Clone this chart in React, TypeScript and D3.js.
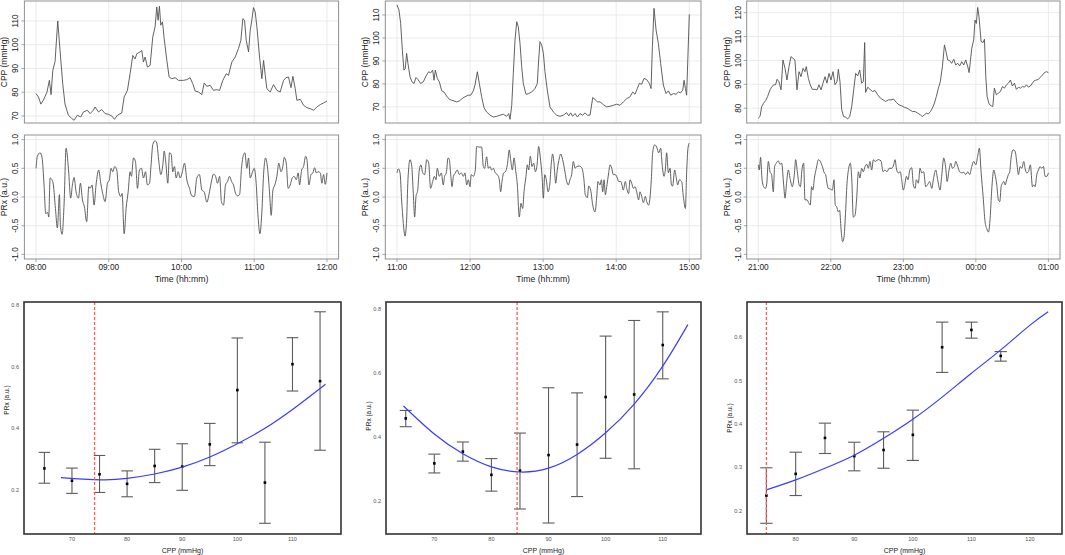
import React from 'react';
import * as d3 from 'd3';

type Pt = [number, number];

// ---- time series (minutes from start of window, value) ----
const cppMorning: Pt[] = [[0,79.4],[2,78],[4,75],[6,76.6],[9,80],[11,85],[12.4,79],[13.8,89],[15.7,93],[17.9,110],[19.8,97.6],[22,83.6],[23.9,75],[26.7,70.3],[29.4,69],[31.4,68.2],[34.1,70.3],[36.9,69.6],[39.1,71.7],[42.4,72.4],[44.6,71],[47.3,72.4],[48.7,73.8],[51.5,71.7],[54.2,72.7],[57,71],[59.7,70.7],[62.5,70],[64.7,68.6],[67.1,70.3],[70.7,71.3],[72.7,78],[75.4,80.8],[77.6,87.8],[79.8,95.5],[81.7,94],[83.1,96.2],[85.9,97],[87.2,97.6],[88.6,92.7],[90,94.8],[91.9,90.6],[94.1,91.3],[96.3,103.3],[98.2,107.5],[99.6,115.9],[100.7,110.3],[101.8,116.2],[102.9,108.2],[104.3,109.6],[105.7,102.6],[107.9,93.4],[109.8,86.4],[112,85.7],[114.8,86.1],[117.5,85],[121.6,85],[124.4,85.3],[127.1,86.1],[129.3,83.6],[131.3,80.5],[134,80.1],[136.8,79],[138.7,83.9],[140.9,82.5],[143.7,82.9],[146.4,80.8],[148.6,81.1],[151.4,80.8],[154.1,85],[156.9,87.8],[158.8,87.1],[161.5,92.7],[164.3,94.8],[167,98.4],[169,101.9],[170.6,111],[172,110.3],[173.4,101.9],[175.3,97],[176.7,106],[178,110.3],[179.4,115.6],[180.8,113.8],[182.2,107.5],[184.4,94.8],[186.3,85.7],[187.7,93.4],[189.1,87.1],[190.4,81.5],[193.2,80.1],[195.9,83.2],[198.7,80.8],[201.4,80.1],[204.2,85],[206.1,86.1],[208.3,86.4],[210.3,81.9],[211.9,86.7],[213.8,81.5],[215.2,76.6],[218,77],[220.7,74.5],[223.5,73.5],[226.2,73.1],[229,72.4],[231.7,73.8],[234.5,74.8],[237.2,75.5],[240,76.3]];

const prxMorning: Pt[] = [[0,0.5],[1.1,0.71],[3.3,0.77],[5,0.68],[6.6,0.21],[8,-0.29],[9.6,-0.27],[10.5,-0.35],[11.6,0.33],[13.2,0.3],[14.3,0.21],[16,-0.2],[17.6,-0.54],[19.3,0.04],[20.1,-0.49],[21.5,-0.65],[23.1,-0.14],[24.8,0.85],[26.7,0.5],[28.6,-0.02],[30,0.21],[31.4,0.34],[33,0.09],[35,-0.02],[36.6,0.24],[38.3,-0.05],[39.9,-0.17],[41.8,-0.43],[43.5,0.18],[44.6,0.15],[46.2,0.21],[47.9,-0.14],[49.5,0.21],[51.7,0.47],[53.4,0.24],[55,0.06],[57,-0.08],[58.9,0.24],[60.5,0.3],[61.9,0.5],[63.3,0.44],[64.9,0.53],[66.6,0.47],[68.2,0.09],[69.9,0.01],[71,0.06],[72.7,-0.64],[74.3,-0.2],[76,0.09],[77.6,0.44],[78.7,0.36],[80.4,0.68],[82,0.62],[83.7,0.15],[85.3,0.47],[87,0.5],[88.6,0.33],[90.3,0.44],[91.9,0.21],[93.6,0.24],[94.9,0.56],[96.3,0.91],[98.2,0.98],[99.6,0.94],[101.3,0.62],[102.9,0.39],[104.6,0.56],[105.7,0.8],[107.1,0.59],[108.7,0.24],[110.1,0.77],[111.5,0.74],[112.8,0.44],[114.2,0.53],[115.6,0.33],[117.2,0.44],[118.9,0.33],[120.5,0.42],[122.5,0.59],[124.4,0.3],[126.6,0.15],[128.5,0.02],[130.7,0.01],[132.6,0.33],[134.8,0.39],[136.8,0.12],[138.7,0.09],[140.9,-0.09],[143.1,0.09],[145,0.3],[146.4,0.4],[148.1,0.36],[149.7,0.24],[151.4,0.36],[153,-0.09],[154.7,-0.14],[156.3,0.21],[158,0.27],[159.6,0.36],[161.3,0.27],[162.9,0.21],[164.6,0.06],[166.2,0.02],[167.9,0.04],[169.5,0.5],[171.2,0.74],[172.3,0.77],[173.9,0.5],[175.3,0.68],[176.7,0.33],[178.3,0.42],[180,0.5],[181.6,0.24],[183,-0.29],[184.7,-0.64],[186.3,-0.26],[187.7,0.39],[189.3,0.68],[191,0.5],[192.6,0.09],[194,-0.32],[195.4,0.12],[197,0.21],[198.7,0.36],[200.3,0.59],[202,0.44],[203.6,0.53],[204.7,0.69],[206.4,0.59],[208,0.15],[209.7,0.21],[211.3,0.33],[213,0.36],[214.7,0.3],[216.3,0.42],[217.4,0.21],[219.1,0.47],[220.7,0.53],[222.4,0.71],[223.5,0.65],[225.1,0.21],[226.8,0.39],[228.4,0.42],[229.8,0.51],[231.2,0.42],[232.8,0.44],[234.5,0.42],[235.8,0.24],[237.2,0.39],[238.6,0.22],[240,0.42]];

const cppMidday: Pt[] = [[0,114.4],[1.6,112.2],[3,106.4],[4.4,94.7],[5.7,86],[6.8,86.7],[7.9,93.3],[9,88.9],[10.7,83.1],[12.3,80.9],[14,80.2],[15.6,82.8],[17.2,81.9],[19.4,80.2],[21.6,80.9],[23.8,83.4],[26,85.3],[27.6,84.8],[29.3,86],[30.4,81.6],[31.5,86],[33.1,82.4],[34.8,80.9],[36.7,77],[38.6,76.5],[40.8,74.7],[43,73.3],[44.9,72.9],[46.8,72.6],[49,72.2],[51.2,72.6],[53.4,73.6],[55.8,74.4],[58.6,75.1],[60.5,75.1],[62.7,77],[64,79.5],[66,85.3],[67.6,80.2],[69.5,74.4],[71.5,69.6],[73.6,67.8],[76.4,66.4],[79.1,65.6],[81.8,65.9],[84.6,66.4],[87.3,66.8],[90,65.9],[91.7,67.1],[92.8,64.6],[94.2,70.7],[95.5,84.5],[96.9,99.1],[98.3,107.1],[99.6,104.9],[101,97.6],[102.4,87.5],[103.7,80.2],[105.9,75.5],[108.1,75.8],[110.6,76.5],[113.3,78],[115.2,80.2],[116.3,90.4],[117.4,98.4],[118.8,96.9],[120.2,93.3],[121.5,85.3],[123.4,77.3],[125.6,70],[128.4,67.8],[131.1,66.4],[133.8,65.9],[136.6,66.4],[139.3,67.5],[141,66.1],[142.6,67.4],[144.2,65.9],[146.2,67.1],[148.1,65.6],[150.3,67.1],[152.4,66.4],[154.4,67.4],[156.3,66.4],[158.5,66.4],[160.7,74.1],[162.6,73.2],[164.5,72.2],[166.7,72.2],[169.4,71],[172.2,70],[174.9,70.3],[177.6,70.7],[180.4,71.2],[183.1,70.7],[185.9,72.2],[188.6,73.6],[191.3,74.4],[193.5,76.5],[195.4,75.5],[197.3,78],[199,80.2],[200.9,79.9],[202.8,82.4],[205,81.9],[207.2,80.2],[208.6,78],[209.7,96.2],[211,112.9],[212.7,103.5],[214.6,97.6],[216.5,88.9],[218.7,79.5],[220.9,75.8],[222.8,77],[224.7,75.1],[226.9,75.8],[229.1,75.5],[231,76.5],[232.9,76.1],[234.6,77.3],[235.7,81.6],[236.8,78],[237.8,75.1],[240,110.3]];

const prxMidday: Pt[] = [[0,0.42],[1.1,0.49],[2.5,0.42],[3.8,-0.05],[5.2,-0.46],[6.6,-0.68],[7.9,-0.4],[9,0.3],[10.7,0.65],[12,0.56],[13.4,0.06],[14.5,-0.35],[15.6,0.01],[17,0.12],[18.3,0.47],[19.7,0.56],[21.1,0.42],[22.7,0.39],[24.4,0.65],[26,0.59],[27.6,0.15],[29.3,0.27],[30.7,0.36],[32,0.3],[33.1,0.5],[34.8,0.36],[36.4,0.42],[38,0.21],[39.1,0.36],[40.5,0.42],[41.9,0.68],[43,0.65],[44.1,0.39],[45.2,0.18],[46.3,0.36],[47.9,0.42],[49.5,0.47],[51.2,0.39],[52.8,0.42],[54.5,0.36],[55.8,0.42],[57.2,0.21],[58.6,0.3],[59.9,0.18],[61,0.39],[62.7,0.36],[64.3,0.47],[65.4,0.88],[67.1,0.87],[69.5,0.87],[70.9,0.53],[72,0.5],[73.6,0.7],[75,0.5],[76.4,0.53],[77.7,0.47],[79.1,0.5],[80.7,0.42],[82.4,0.39],[84,0.3],[85.1,0.09],[86.2,0.27],[87.6,0.42],[89,0.44],[90.6,0.56],[92.2,0.82],[93.3,0.65],[94.7,0.47],[96.1,0.68],[97.4,0.47],[98.8,0.21],[100.4,-0.35],[101.8,-0.11],[103.2,-0.2],[104.3,0.09],[105.9,0.36],[107,0.56],[108.1,0.47],[109.5,0.71],[110.8,0.53],[112.2,0.59],[113.6,0.44],[115,0.56],[116.3,0.88],[117.7,0.68],[119.1,0.36],[120.2,-0.02],[121.3,0.39],[122.6,0.3],[124,0.09],[125.4,0.21],[126.7,0.59],[127.8,0.75],[128.9,0.59],[130.3,0.24],[131.6,0.47],[133.3,0.68],[134.4,0.75],[136,0.65],[137.9,0.44],[139.3,0.27],[140.7,0.21],[142,0.3],[143.4,0.39],[144.8,0.62],[146.2,0.5],[147.5,0.53],[149.7,0.54],[151.9,0.5],[153.5,0.3],[154.6,0.04],[156.3,-0.01],[157.4,0.19],[159,0.12],[160.7,-0.14],[162.6,-0.26],[163.9,-0.02],[165,0.27],[166.7,0.21],[167.8,0.3],[168.9,0.09],[170,0.3],[171.1,0.04],[172.2,0.18],[173.8,0.42],[174.9,0.56],[176.3,0.5],[177.6,0.39],[179.3,0.39],[180.9,0.33],[182,0.27],[183.7,0.27],[184.7,0.21],[185.8,0.12],[187.5,0.27],[188.6,0.15],[190.2,0.06],[191.3,0.3],[192.7,0.24],[194.1,0.15],[195.4,0.18],[196.8,0.09],[198.4,-0.05],[199.5,0.09],[200.9,0.01],[202.3,-0.1],[203.9,0.01],[205,-0.08],[206.6,-0.14],[207.7,-0.02],[208.8,0.3],[209.9,0.77],[211.6,0.91],[213.2,0.87],[214.9,0.77],[216.5,0.85],[217.6,0.59],[219.2,0.36],[220.3,0.47],[221.4,0.77],[222.8,0.42],[224.2,0.5],[225.3,0.21],[226.3,0.19],[228,0.47],[229.1,0.36],[230.5,0.21],[231.8,0.3],[233.7,0.27],[235.1,0.01],[236.8,-0.2],[237.8,0.42],[238.9,0.85],[240,0.94]];

const cppNight: Pt[] = [[0,75.8],[1.4,76.5],[2.8,80.7],[4.4,82.1],[6.1,83.2],[7.7,84.9],[9.7,87.7],[11,88.8],[12.7,89.8],[14.3,89.8],[15.5,92.1],[17.1,91.1],[18.8,87.7],[20.4,100.2],[22.1,96.7],[23.7,91.8],[25.4,97.4],[27,101.6],[28.7,100.9],[30.3,100.2],[32,87.7],[33.7,95.3],[35.3,93.2],[37,96.7],[38.6,95.3],[39.7,97.4],[41.4,92.5],[43,89.8],[44.7,87.9],[46.9,87.9],[48.6,87.7],[50.2,89.8],[51.9,87.7],[53.5,90.5],[55.2,93.2],[56.8,90.5],[58.5,94.6],[60.1,91.8],[61.8,95.3],[63.5,89.8],[65.1,91.1],[66.2,96.3],[67.6,91.1],[69,79.3],[70.6,76.5],[72.3,76.2],[73.9,75.5],[75.6,76.5],[77.3,80.7],[78.9,87.7],[80.6,94.6],[82.2,93.5],[83.9,96],[85.5,90.5],[86.9,91.1],[88,107.5],[88.8,86.6],[90.5,88.8],[92.4,87.9],[94.4,87],[96.6,87.4],[98.8,85.6],[101,84.2],[103.2,83.5],[105.4,82.8],[107.6,83.5],[109.8,83.5],[112,83.8],[114.2,82.4],[116.4,81.4],[118.6,81],[120.8,80.4],[123.1,80],[125.3,79.3],[127.5,78.6],[129.7,78.6],[131.9,77.9],[134.1,77.2],[135.7,76.5],[137.4,77.2],[139.1,77.9],[140.7,77.6],[142.4,78.6],[144,80],[145.7,82.1],[147.3,84.9],[149,88.4],[150.6,91.1],[152.3,97.4],[154,106.5],[155.3,103.7],[156.7,100.2],[158.4,99.9],[160,98.8],[161.7,100.5],[163.3,98.1],[165,98.8],[166.6,97.7],[168.3,99.5],[170,98.1],[171.6,100.2],[173.3,97.4],[174.4,94.9],[175.5,99.9],[176.6,105.1],[178.2,108.6],[179.3,116.9],[180.4,115.5],[181.5,122.2],[182.6,118.3],[184.3,107.9],[186,107.5],[187.1,108.9],[188.2,93.2],[189.3,84.9],[190.9,81.8],[192.6,81],[194,80.7],[195.3,88.4],[197,85.6],[198.6,86.3],[200.3,87],[202,89.1],[203.6,88.4],[205.3,89.8],[206.9,90.5],[208.6,91.8],[210.2,89.3],[211.9,90.5],[213.5,87.9],[215.2,88.8],[216.9,88.4],[218.5,89.1],[220.2,88.8],[221.8,89.8],[223.5,88.8],[225.1,89.3],[226.8,90.5],[228.4,91.6],[230.1,91.8],[231.8,92.1],[233.4,93],[235.1,93.9],[236.7,94.9],[238.4,95.3],[240,94.9]];

const prxNight: Pt[] = [[0,0.56],[0.8,0.47],[1.9,0.69],[3,0.33],[4.4,0.18],[5.8,0.15],[6.9,0.21],[8.3,0.62],[9.7,0.44],[11,0.39],[12.4,0.09],[13.5,0.53],[14.9,0.59],[16.6,0.63],[17.9,0.57],[19.3,0.59],[21,0.21],[22.1,-0.02],[23.5,0.27],[24.8,0.47],[26.5,0.3],[28.1,0.18],[29.8,0.39],[30.9,0.65],[32.3,0.44],[33.7,0.22],[34.8,0.18],[36.1,0.47],[37.5,0.59],[38.6,-0.05],[40.3,-0.05],[41.9,-0.11],[43,-0.14],[44.1,0.18],[45.2,0.12],[46.4,0.33],[48,0.5],[49.7,0.65],[51.3,0.62],[53,0.53],[54.6,0.42],[55.7,0.39],[56.8,0.24],[57.9,0.15],[59.6,0.14],[61.3,0.12],[62.6,0.3],[63.7,-0.14],[64.8,-0.17],[66.2,-0.26],[67.3,-0.23],[68.4,-0.55],[69.8,-0.78],[70.9,-0.7],[72,-0.35],[73.4,0.24],[74.8,0.5],[76.1,0.59],[77.3,0.33],[78.6,-0.35],[80,-0.32],[81.4,-0.02],[82.8,0.44],[84.1,0.33],[85.5,0.5],[86.9,0.44],[88.3,0.53],[89.7,0.57],[91,0.5],[92.4,0.62],[93.8,0.47],[95.2,0.65],[96.6,0.62],[99.3,0.65],[101.5,0.63],[103.2,0.44],[104.8,0.47],[106.5,0.44],[108.2,0.5],[110.4,0.5],[112,0.56],[113.1,0.65],[114.5,0.47],[115.9,0.42],[117.5,0.44],[118.6,0.3],[120,0.12],[121.4,0.24],[122.5,0.36],[123.9,0.3],[125.3,0.47],[126.9,0.51],[128.3,0.21],[129.7,0.15],[130.8,0.3],[132.4,0.24],[133.8,0.5],[135.2,0.42],[136.8,0.44],[138.5,0.18],[140.2,0.22],[141.8,0.27],[143.5,0.15],[145.1,0.34],[146.8,0.47],[148.4,0.3],[150.4,0.12],[151.7,0.36],[153.4,0.68],[155.1,0.5],[156.2,0.27],[157.8,0.47],[159.2,0.59],[160.6,0.5],[162.2,0.53],[163.3,0.62],[165,0.53],[166.6,0.44],[168.3,0.42],[170,0.43],[171.6,0.39],[173.3,0.44],[174.9,0.39],[176.6,0.53],[178.2,0.62],[179.9,0.56],[181.5,0.71],[182.9,0.85],[184.3,0.44],[186,0.01],[187.6,-0.43],[189,-0.55],[190.4,-0.61],[191.8,-0.37],[193.1,0.12],[194.8,0.47],[195.9,0.39],[197.3,0.21],[198.6,-0.05],[199.8,-0.08],[200.9,0.18],[202,0.24],[203.1,0.27],[204.2,0.21],[205.5,0.3],[206.9,0.39],[208,0.44],[209.1,0.68],[210.8,0.82],[212.4,0.8],[214.1,0.56],[215.2,0.39],[216.6,0.53],[218,0.5],[219.6,0.62],[220.7,0.5],[222.1,0.42],[223.5,0.44],[225.1,0.56],[226.8,0.18],[227.9,0.21],[229,0.18],[230.4,0.39],[231.8,0.47],[233.1,0.53],[234.5,0.5],[235.9,0.53],[237.3,0.36],[238.7,0.36],[240,0.42]];

// ---- time axis ticks ----
const hourTicks = [0, 60, 120, 180, 240];
const labelsMorning = ['08:00', '09:00', '10:00', '11:00', '12:00'];
const labelsMidday = ['11:00', '12:00', '13:00', '14:00', '15:00'];
const labelsNight = ['21:00', '22:00', '23:00', '00:00', '01:00'];
const prxTicks = [-1, -0.5, 0, 0.5, 1];

// ---- binned PRx vs CPP ----
const binCppMorning = [65, 70, 75, 80, 85, 90, 95, 100, 105, 110, 115];
const meanMorning = [0.27, 0.23, 0.251, 0.22, 0.278, 0.276, 0.348, 0.524, 0.224, 0.608, 0.553];
const lowMorning = [0.222, 0.189, 0.192, 0.178, 0.224, 0.199, 0.279, 0.353, 0.092, 0.521, 0.329];
const highMorning = [0.322, 0.271, 0.312, 0.262, 0.332, 0.35, 0.416, 0.693, 0.355, 0.694, 0.778];
const fitCppMorning = [68, 72, 76, 80, 85, 90, 95, 100, 105, 110, 116];
const fitPrxMorning = [0.24, 0.235, 0.233, 0.238, 0.252, 0.274, 0.307, 0.35, 0.4, 0.461, 0.543];
const optMorning = 74.1;

const binCppMidday = [65, 70, 75, 80, 85, 90, 95, 100, 105, 110];
const meanMidday = [0.458, 0.317, 0.354, 0.281, 0.294, 0.343, 0.376, 0.525, 0.533, 0.688];
const lowMidday = [0.432, 0.287, 0.324, 0.23, 0.174, 0.13, 0.213, 0.333, 0.3, 0.582];
const highMidday = [0.483, 0.346, 0.384, 0.332, 0.412, 0.554, 0.538, 0.716, 0.765, 0.792];
const fitCppMidday = [64.6, 70, 75, 80, 85, 90, 95, 100, 105, 110, 114.4];
const fitPrxMidday = [0.497, 0.409, 0.347, 0.306, 0.29, 0.302, 0.345, 0.413, 0.503, 0.622, 0.752];
const optMidday = 84.5;

const binCppNight = [75, 80, 85, 90, 95, 100, 105, 110, 115];
const meanNight = [0.235, 0.285, 0.368, 0.326, 0.34, 0.375, 0.577, 0.617, 0.557];
const lowNight = [0.171, 0.235, 0.332, 0.292, 0.298, 0.316, 0.519, 0.598, 0.545];
const highNight = [0.299, 0.335, 0.402, 0.358, 0.382, 0.432, 0.635, 0.635, 0.567];
const fitCppNight = [75, 80, 85, 90, 95, 100, 105, 110, 115, 120, 123.1];
const fitPrxNight = [0.248, 0.271, 0.298, 0.328, 0.367, 0.411, 0.462, 0.517, 0.571, 0.628, 0.659];
const optNight = 75;

const FONT = '"Liberation Sans", Arial, Helvetica, sans-serif';

interface TraceProps {
  data: Pt[];
  x0: number; x1: number; y0: number; y1: number;
  yDomain: [number, number];
  yTicks: number[];
  yFormat: (v: number) => string;
  yTitle: string;
  timeLabels?: string[];
  smooth?: boolean;
}

function TracePanel({ data, x0, x1, y0, y1, yDomain, yTicks, yFormat, yTitle, timeLabels, smooth }: TraceProps) {
  const x = d3.scaleLinear().domain([-9.6, 249.6]).range([x0, x1]);
  const y = d3.scaleLinear().domain(yDomain).range([y1, y0]);
  const line = d3.line<Pt>()
    .x(d => x(d[0]))
    .y(d => y(d[1]))
    .curve(smooth ? d3.curveMonotoneX : d3.curveLinear);
  const midY = (y0 + y1) / 2;

  return (
    <g fontFamily={FONT}>
      {hourTicks.map(t => (
        <line key={'gx' + t} x1={x(t)} x2={x(t)} y1={y0} y2={y1} stroke="#e6e6e6" strokeWidth={0.8} />
      ))}
      {yTicks.map(v => (
        <line key={'gy' + v} x1={x0} x2={x1} y1={y(v)} y2={y(v)} stroke="#e6e6e6" strokeWidth={0.8} />
      ))}
      <path d={line(data) || ''} fill="none" stroke="#505050" strokeWidth={0.9} />
      <rect x={x0} y={y0} width={x1 - x0} height={y1 - y0} fill="none" stroke="#8f8f8f" strokeWidth={1} />
      {yTicks.map(v => (
        <g key={'ty' + v}>
          <line x1={x0 - 3} x2={x0} y1={y(v)} y2={y(v)} stroke="#8f8f8f" strokeWidth={0.8} />
          <text transform={`translate(${x0 - 9},${y(v)}) rotate(-90)`} textAnchor="middle"
            dominantBaseline="central" fontSize={8.3} fill="#222">{yFormat(v)}</text>
        </g>
      ))}
      <text transform={`translate(${x0 - 20},${midY}) rotate(-90)`} textAnchor="middle"
        dominantBaseline="central" fontSize={8.5} fill="#222">{yTitle}</text>
      {timeLabels && hourTicks.map((t, i) => (
        <g key={'tx' + t}>
          <line x1={x(t)} x2={x(t)} y1={y1} y2={y1 + 3} stroke="#8f8f8f" strokeWidth={0.8} />
          <text x={x(t)} y={y1 + 8} textAnchor="middle" dominantBaseline="central" fontSize={8.3} fill="#222">
            {timeLabels[i]}
          </text>
        </g>
      ))}
      {timeLabels && (
        <text x={(x0 + x1) / 2} y={y1 + 20} textAnchor="middle" dominantBaseline="central" fontSize={8.7} fill="#222">
          Time (hh:mm)
        </text>
      )}
    </g>
  );
}

interface BinProps {
  cpp: number[]; mean: number[]; low: number[]; high: number[];
  fitCpp: number[]; fitPrx: number[]; opt: number;
  x0: number; x1: number; y0: number; y1: number;
  xDomain: [number, number]; yDomain: [number, number];
  xTicks: number[]; yTicks: number[];
  yTitleY: number;
}

function BinPanel(p: BinProps) {
  const x = d3.scaleLinear().domain(p.xDomain).range([p.x0, p.x1]);
  const y = d3.scaleLinear().domain(p.yDomain).range([p.y1, p.y0]);
  const fit = d3.line<number>()
    .x((_, i) => x(p.fitCpp[i]))
    .y(d => y(d))
    .curve(d3.curveNatural);
  const capHalf = 1.05;

  return (
    <g fontFamily={FONT}>
      {p.cpp.map((c, i) => (
        <g key={'eb' + c} stroke="#5c5c5c" strokeWidth={1.1}>
          <line x1={x(c)} x2={x(c)} y1={y(p.low[i])} y2={y(p.high[i])} />
          <line x1={x(c - capHalf)} x2={x(c + capHalf)} y1={y(p.low[i])} y2={y(p.low[i])} />
          <line x1={x(c - capHalf)} x2={x(c + capHalf)} y1={y(p.high[i])} y2={y(p.high[i])} />
        </g>
      ))}
      {p.cpp.map((c, i) => (
        <rect key={'pt' + c} x={x(c) - 1.3} y={y(p.mean[i]) - 1.3} width={2.6} height={2.6} fill="#000" />
      ))}
      <path d={fit(p.fitPrx) || ''} fill="none" stroke="#3b3bff" strokeWidth={1.2} />
      <line x1={x(p.opt)} x2={x(p.opt)} y1={p.y0} y2={p.y1} stroke="#ff5a5a" strokeWidth={1.3} strokeDasharray="3,2" />
      <rect x={p.x0} y={p.y0} width={p.x1 - p.x0} height={p.y1 - p.y0} fill="none" stroke="#333" strokeWidth={1.6} />
      {p.yTicks.map(v => (
        <text key={'ty' + v} x={p.x0 - 5} y={y(v)} textAnchor="end" dominantBaseline="central" fontSize={5.6} fill="#555">
          {v.toFixed(1)}
        </text>
      ))}
      {p.xTicks.map(v => (
        <text key={'tx' + v} x={x(v)} y={p.y1 + 5} textAnchor="middle" dominantBaseline="central" fontSize={5.6} fill="#555">
          {v}
        </text>
      ))}
      <text x={(p.x0 + p.x1) / 2} y={p.y1 + 16} textAnchor="middle" dominantBaseline="central" fontSize={7} fill="#222">
        CPP (mmHg)
      </text>
      <text transform={`translate(${p.x0 - 18},${p.yTitleY}) rotate(-90)`} textAnchor="middle"
        dominantBaseline="central" fontSize={6.5} fill="#222">PRx (a.u.)</text>
    </g>
  );
}

const fmt0 = (v: number) => String(v);
const fmt1 = (v: number) => v.toFixed(1);

export default function App() {
  const cols = [
    { x0: 24.4, x1: 338.6 },
    { x0: 385.3, x1: 701 },
    { x0: 746.7, x1: 1060 },
  ];
  const cppBox = { y0: 1, y1: 123 };
  const prxBox = { y0: 135, y1: 259 };
  const binBox = { y0: 302, y1: 534 };

  return (
    <div style={{ position: 'absolute', left: 0, top: 0, width: 1065, height: 555, background: '#fff' }}>
      <svg width={1065} height={555} viewBox="0 0 1065 555">
        <rect width={1065} height={555} fill="#fff" />

        <TracePanel data={cppMorning} {...cols[0]} {...cppBox} yDomain={[67.05, 118.4]}
          yTicks={[70, 80, 90, 100, 110]} yFormat={fmt0} yTitle="CPP (mmHg)" />
        <TracePanel data={prxMorning} {...cols[0]} {...prxBox} yDomain={[-1.08, 1.08]}
          yTicks={prxTicks} yFormat={fmt1} yTitle="PRx (a.u.)" timeLabels={labelsMorning} smooth />

        <TracePanel data={cppMidday} {...cols[1]} {...cppBox} yDomain={[63.0, 116.1]}
          yTicks={[70, 80, 90, 100, 110]} yFormat={fmt0} yTitle="CPP (mmHg)" />
        <TracePanel data={prxMidday} {...cols[1]} {...prxBox} yDomain={[-1.08, 1.08]}
          yTicks={prxTicks} yFormat={fmt1} yTitle="PRx (a.u.)" timeLabels={labelsMidday} smooth />

        <TracePanel data={cppNight} {...cols[2]} {...cppBox} yDomain={[73.8, 124.9]}
          yTicks={[80, 90, 100, 110, 120]} yFormat={fmt0} yTitle="CPP (mmHg)" />
        <TracePanel data={prxNight} {...cols[2]} {...prxBox} yDomain={[-1.08, 1.08]}
          yTicks={prxTicks} yFormat={fmt1} yTitle="PRx (a.u.)" timeLabels={labelsNight} smooth />

        <BinPanel cpp={binCppMorning} mean={meanMorning} low={lowMorning} high={highMorning}
          fitCpp={fitCppMorning} fitPrx={fitPrxMorning} opt={optMorning}
          x0={24} x1={341} {...binBox} xDomain={[61.3, 118.8]} yDomain={[0.0573, 0.8097]}
          xTicks={[70, 80, 90, 100, 110]} yTicks={[0.2, 0.4, 0.6, 0.8]} yTitleY={400} />
        <BinPanel cpp={binCppMidday} mean={meanMidday} low={lowMidday} high={highMidday}
          fitCpp={fitCppMidday} fitPrx={fitPrxMidday} opt={optMidday}
          x0={386} x1={701} {...binBox} xDomain={[61.54, 116.7]} yDomain={[0.0956, 0.8229]}
          xTicks={[70, 80, 90, 100, 110]} yTicks={[0.2, 0.4, 0.6, 0.8]} yTitleY={416} />
        <BinPanel cpp={binCppNight} mean={meanNight} low={lowNight} high={highNight}
          fitCpp={fitCppNight} fitPrx={fitPrxNight} opt={optNight}
          x0={747} x1={1062} {...binBox} xDomain={[71.69, 125.46]} yDomain={[0.1463, 0.6814]}
          xTicks={[80, 90, 100, 110, 120]} yTicks={[0.2, 0.3, 0.4, 0.5, 0.6]} yTitleY={418} />
      </svg>
    </div>
  );
}
